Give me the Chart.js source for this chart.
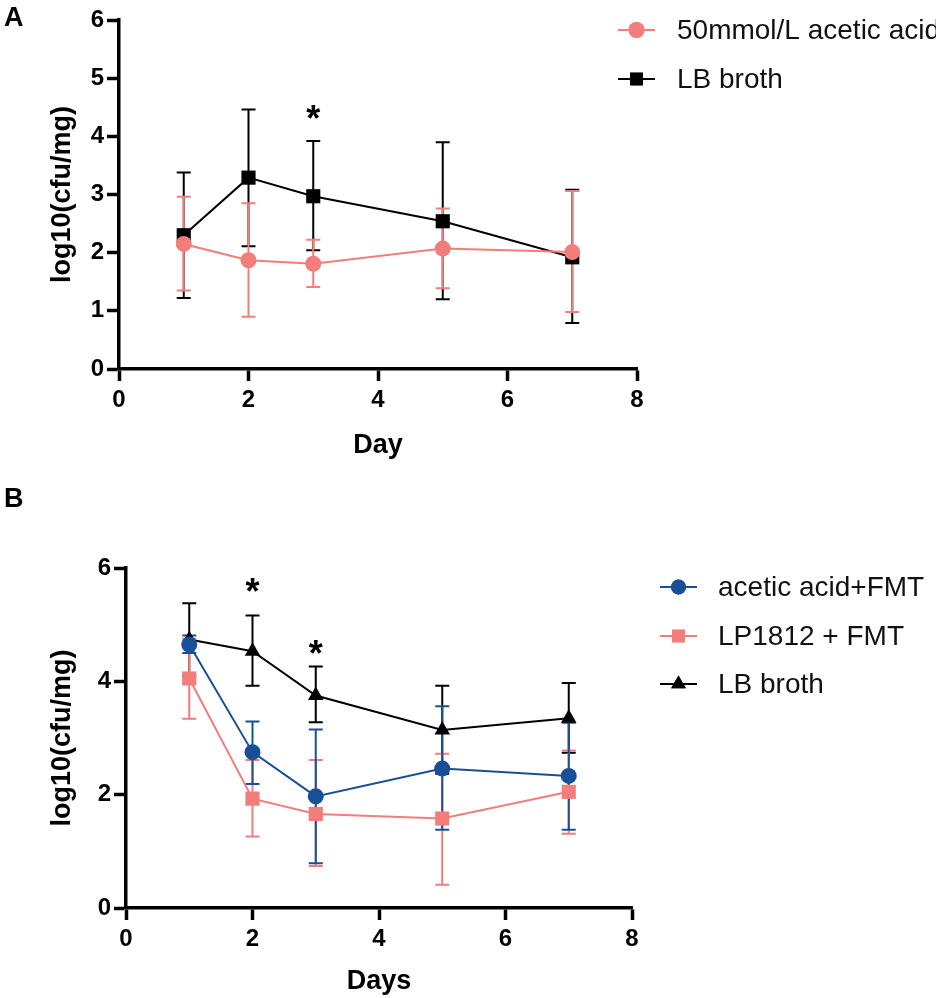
<!DOCTYPE html>
<html>
<head>
<meta charset="utf-8">
<script src="https://cdn.jsdelivr.net/npm/chart.js@4.4.1/dist/chart.umd.min.js"></script>
<style>
  html, body { margin: 0; padding: 0; background: #fff; }
  #wrapA { position: absolute; left: 0; top: 0; width: 936px; height: 470px; }
  #wrapB { position: absolute; left: 0; top: 470px; width: 936px; height: 528px; }
</style>
</head>
<body>
<div id="wrapA"><canvas id="chartA"></canvas></div>
<div id="wrapB"><canvas id="chartB"></canvas></div>
<script>
// ---- data ----
const days = [1, 2, 3, 5, 7];

// panel A
const acidMean = [2.15, 1.87, 1.81, 2.07, 2.01];
const acidUpper = [2.96, 2.85, 2.22, 2.76, 3.06];
const acidLower = [1.35, 0.90, 1.41, 1.39, 0.98];
const brothAMean = [2.30, 3.29, 2.97, 2.54, 1.92];
const brothAUpper = [3.38, 4.46, 3.92, 3.90, 3.08];
const brothALower = [1.22, 2.11, 2.04, 1.20, 0.79];
const starsADays = [3];
const starsAValues = [4.45];

// panel B
const acidFmtMean = [4.65, 2.75, 1.97, 2.46, 2.33];
const acidFmtUpper = [4.81, 3.29, 3.15, 3.56, 3.27];
const acidFmtLower = [4.50, 2.19, 0.79, 1.38, 1.38];
const lpFmtMean = [4.05, 1.93, 1.66, 1.58, 2.05];
const lpFmtUpper = [4.75, 2.61, 2.61, 2.72, 2.78];
const lpFmtLower = [3.34, 1.26, 0.74, 0.41, 1.31];
const brothBMean = [4.74, 4.53, 3.75, 3.14, 3.35];
const brothBUpper = [5.38, 5.16, 4.26, 3.92, 3.97];
const brothBLower = [4.10, 3.92, 3.28, 2.37, 2.74];
const starsBDays = [2, 3];
const starsBValues = [5.73, 4.65];

const xTicks = [0, 2, 4, 6, 8];

const FONT = "'Liberation Sans', Arial, Helvetica, sans-serif";
const SALMON = "rgb(242,125,122)";
const BLUE = "rgb(24,80,152)";
const BLACK = "#000";

function points(values) {
  return days.map((d, i) => ({ x: d, y: values[i] }));
}

// vertical error bars with caps, drawn under the markers
const errorBars = {
  id: "errorBars",
  beforeDatasetsDraw(chart) {
    const { ctx, scales } = chart;
    const sets = chart.data.datasets;
    for (let i = sets.length - 1; i >= 0; i--) {
      const ds = sets[i];
      ctx.save();
      ctx.strokeStyle = ds.borderColor;
      ctx.lineWidth = 2;
      ds.data.forEach((p, j) => {
        const px = scales.x.getPixelForValue(p.x);
        const top = scales.y.getPixelForValue(ds.errUpper[j]);
        const bot = scales.y.getPixelForValue(ds.errLower[j]);
        ctx.beginPath();
        ctx.moveTo(px, top); ctx.lineTo(px, bot);
        ctx.moveTo(px - 7, top); ctx.lineTo(px + 7, top);
        ctx.moveTo(px - 7, bot); ctx.lineTo(px + 7, bot);
        ctx.stroke();
      });
      ctx.restore();
    }
  }
};

// panel letter, significance stars and the legend at the right
const decor = {
  id: "decor",
  afterDraw(chart, args, opts) {
    const { ctx, scales } = chart;
    ctx.save();
    ctx.fillStyle = "#000";
    ctx.textBaseline = "top";
    ctx.textAlign = "left";
    ctx.font = "bold 27px " + FONT;
    ctx.fillText(opts.letter, opts.letterX, opts.letterY);

    ctx.font = "bold 36px " + FONT;
    ctx.textAlign = "center";
    ctx.textBaseline = "alphabetic";
    opts.starDays.forEach((d, i) => {
      const px = scales.x.getPixelForValue(d);
      const py = scales.y.getPixelForValue(opts.starValues[i]);
      ctx.fillText("*", px, py + 21);
    });

    const lg = opts.legend;
    chart.data.datasets.forEach((ds, i) => {
      const y = lg.ys[i];
      ctx.strokeStyle = ds.borderColor;
      ctx.lineWidth = 2;
      ctx.beginPath();
      ctx.moveTo(lg.x1, y); ctx.lineTo(lg.x2, y);
      ctx.stroke();
      ctx.fillStyle = ds.backgroundColor;
      Chart.helpers.drawPoint(ctx, {
        pointStyle: ds.pointStyle,
        radius: ds.legendRadius,
        rotation: 0,
        borderWidth: 0
      }, (lg.x1 + lg.x2) / 2, y);
      ctx.fill();
      ctx.fillStyle = "#111";
      ctx.font = lg.size + "px " + FONT;
      ctx.textAlign = "left";
      ctx.textBaseline = "middle";
      ctx.fillText(ds.label, lg.textX, y + 1);
    });
    ctx.restore();
  }
};

function axes(yMax, yStep, yWidth, xHeight, xTitle, xTitlePad) {
  const grid = {
    drawOnChartArea: false,
    drawTicks: true,
    tickLength: 12,
    tickWidth: 3.5,
    tickColor: BLACK,
    color: BLACK
  };
  const border = { display: true, color: BLACK, width: 3.5 };
  const tickFont = { family: FONT, size: 24, weight: "bold" };
  const titleFont = { family: FONT, size: 27, weight: "bold" };
  return {
    x: {
      type: "linear",
      min: 0,
      max: 8,
      afterBuildTicks(scale) { scale.ticks = xTicks.map(v => ({ value: v })); },
      ticks: { color: BLACK, font: tickFont, padding: 5, maxRotation: 0 },
      grid,
      border,
      title: { display: true, text: xTitle, color: BLACK, font: titleFont, padding: { top: 0, bottom: xTitlePad } },
      afterFit(scale) { scale.height = xHeight; }
    },
    y: {
      type: "linear",
      min: 0,
      max: yMax,
      ticks: { stepSize: yStep, color: BLACK, font: tickFont, padding: 3 },
      grid,
      border,
      title: { display: true, text: "log10(cfu/mg)", color: BLACK, font: titleFont, padding: { top: 46, bottom: 0 } },
      afterFit(scale) { scale.width = yWidth; }
    }
  };
}

function series(label, values, upper, lower, color, style, radius, legendRadius) {
  return {
    label,
    data: points(values),
    errUpper: upper,
    errLower: lower,
    borderColor: color,
    backgroundColor: color,
    borderWidth: 2,
    pointStyle: style,
    pointRadius: radius,
    pointBorderWidth: 0,
    pointBackgroundColor: color,
    legendRadius,
    tension: 0,
    fill: false
  };
}

document.addEventListener("DOMContentLoaded", function () {
  new Chart(document.getElementById("chartA"), {
    type: "line",
    data: {
      datasets: [
        series("50mmol/L acetic acid", acidMean, acidUpper, acidLower, SALMON, "circle", 8, 8),
        series("LB broth", brothAMean, brothAUpper, brothALower, BLACK, "rect", 10, 9)
      ]
    },
    options: {
      responsive: true,
      maintainAspectRatio: false,
      animation: false,
      layout: { padding: { left: 0, top: 20, right: 299, bottom: 0 } },
      scales: axes(6, 1, 119, 101, "Day", 8),
      plugins: {
        legend: { display: false },
        tooltip: { enabled: false },
        decor: {
          letter: "A", letterX: 4, letterY: 5,
          starDays: starsADays, starValues: starsAValues,
          legend: { x1: 618, x2: 655, textX: 677, ys: [30, 79], size: 28 }
        }
      }
    },
    plugins: [errorBars, decor]
  });

  new Chart(document.getElementById("chartB"), {
    type: "line",
    data: {
      datasets: [
        series("acetic acid+FMT", acidFmtMean, acidFmtUpper, acidFmtLower, BLUE, "circle", 8, 7.5),
        series("LP1812 + FMT", lpFmtMean, lpFmtUpper, lpFmtLower, SALMON, "rect", 10, 9),
        series("LB broth", brothBMean, brothBUpper, brothBLower, BLACK, "triangle", 9, 8.5)
      ]
    },
    options: {
      responsive: true,
      maintainAspectRatio: false,
      animation: false,
      layout: { padding: { left: 0, top: 98, right: 304, bottom: 0 } },
      scales: axes(6, 2, 126, 90, "Days", 0),
      plugins: {
        legend: { display: false },
        tooltip: { enabled: false },
        decor: {
          letter: "B", letterX: 4, letterY: 16,
          starDays: starsBDays, starValues: starsBValues,
          legend: { x1: 660, x2: 697, textX: 718, ys: [117, 166, 214], size: 28 }
        }
      }
    },
    plugins: [errorBars, decor]
  });
});
</script>
</body>
</html>
